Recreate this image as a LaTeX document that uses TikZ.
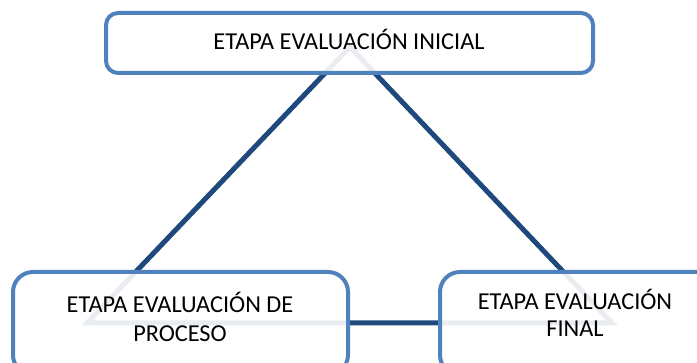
\documentclass[tikz,border=0pt]{standalone}
\usepackage{fontspec}
\setmainfont{Carlito}
\usepackage{tikz}

\definecolor{boxblue}{RGB}{79,129,189}
\definecolor{linkblue}{RGB}{31,73,125}

\tikzset{
  etapa/.style={draw=boxblue, line width=4pt, rounded corners=20pt, fill=white, fill opacity=0.9, draw opacity=1, inner sep=0pt},
  rotulo/.style={font=\fontsize{24.3}{28}\selectfont, align=center, anchor=base, text=black, inner sep=0pt},
  enlace/.style={draw=linkblue, line width=5pt},
}

\begin{document}
\begin{tikzpicture}[x=1pt,y=-1pt]
		\useasboundingbox (0,0) rectangle (697,363);
		\clip (0,0) rectangle (697,363);
		% corners of the triangle
		\coordinate (Vi) at (350,47);
		\coordinate (Vp) at (87,323);
		\coordinate (Vf) at (612,323);
		\path[enlace] (Vi) -- (Vp) -- (Vf) -- cycle;
		%
		% boxes over the triangle
		\node[etapa, rounded corners=12pt, minimum width=487pt, minimum height=60pt] (inicial) at (349.5,43) {};
		\node[etapa, minimum width=335pt, minimum height=103pt] (proceso) at (180.5,323.5) {};
		\node[etapa, minimum width=280pt, minimum height=103pt] (final) at (580,323.5) {};
		%
		% texts (base = last line)
		\node[rotulo] (inicialT) at (349,50) {ETAPA EVALUACIÓN INICIAL};
		\node[rotulo, font=\fontsize{24.3}{29}\selectfont] (procesoT) at (180,342) {ETAPA EVALUACIÓN DE\\PROCESO};
		\node[rotulo, font=\fontsize{24.3}{27}\selectfont] (finalT) at (575,337) {ETAPA EVALUACIÓN\\FINAL};
\end{tikzpicture}
\end{document}
